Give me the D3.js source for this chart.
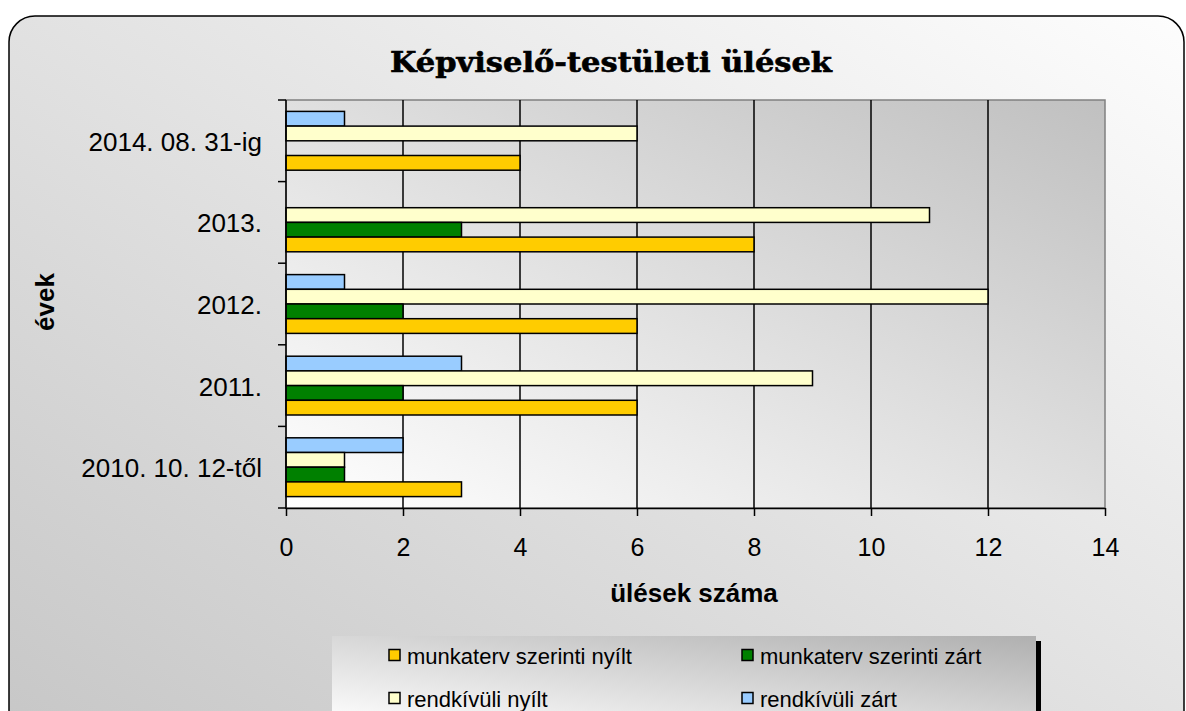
<!DOCTYPE html>
<html>
<head>
<meta charset="utf-8">
<script src="https://cdn.jsdelivr.net/npm/d3@7"></script>
<style>
  body { margin: 0; background: #fff; }
  svg { display: block; }
  text { font-family: "Liberation Sans", Arial, sans-serif; fill: #000; }
</style>
</head>
<body>
<svg id="chart" width="1186" height="711"></svg>
<script>
// data
var categories = ["2014. 08. 31-ig", "2013.", "2012.", "2011.", "2010. 10. 12-től"];
var seriesNames = ["rendkívüli zárt", "rendkívüli nyílt", "munkaterv szerinti zárt", "munkaterv szerinti nyílt"];
var seriesColors = ["#99ccff", "#ffffcc", "#008000", "#ffcc00"];
var rendkivuliZart = [1, 0, 1, 3, 2];
var rendkivuliNyilt = [6, 11, 12, 9, 1];
var munkatervZart = [0, 3, 2, 2, 1];
var munkatervNyilt = [4, 8, 6, 6, 3];
var xTicks = [0, 2, 4, 6, 8, 10, 12, 14];
var legendOrder = ["munkaterv szerinti nyílt", "munkaterv szerinti zárt", "rendkívüli nyílt", "rendkívüli zárt"];

var seriesValues = [rendkivuliZart, rendkivuliNyilt, munkatervZart, munkatervNyilt];

var svg = d3.select("#chart");
var defs = svg.append("defs");

function gradient(id, x1, y1, x2, y2, c1, c2) {
    var g = defs.append("linearGradient").attr("id", id)
        .attr("x1", x1).attr("y1", y1).attr("x2", x2).attr("y2", y2);
    g.append("stop").attr("offset", "0%").attr("stop-color", c1);
    g.append("stop").attr("offset", "100%").attr("stop-color", c2);
}
gradient("frameGrad", 1, 0, 0, 1, "#fdfdfd", "#c6c6c6");
gradient("plotGrad", 0, 1, 1, 0, "#ffffff", "#c0c0c0");
gradient("legendGrad", 0, 1, 1, 0, "#ffffff", "#b0b0b0");

// outer frame
svg.append("rect")
    .attr("x", 9).attr("y", 16)
    .attr("width", 1175).attr("height", 740)
    .attr("rx", 26).attr("ry", 26)
    .attr("fill", "url(#frameGrad)")
    .attr("stroke", "#000").attr("stroke-width", 1.5);

var plotLeft = 286, plotRight = 1105, plotTop = 100, plotBottom = 508;

var x = d3.scaleLinear().domain([0, 14]).range([plotLeft, plotRight]);
var y = d3.scaleBand().domain(categories).range([plotTop, plotBottom]).padding(0);
var y1 = d3.scaleBand().domain(seriesNames).range([0, y.bandwidth()])
    .paddingInner(0).paddingOuter(0.776);

// plot background
svg.append("rect")
    .attr("x", plotLeft).attr("y", plotTop)
    .attr("width", plotRight - plotLeft).attr("height", plotBottom - plotTop)
    .attr("fill", "url(#plotGrad)")
    .attr("stroke", "#808080").attr("stroke-width", 1.5);

// vertical grid
svg.append("g")
    .selectAll("line")
    .data(xTicks.filter(d => d > 0 && d < 14))
    .enter()
    .append("line")
    .attr("x1", d => x(d)).attr("x2", d => x(d))
    .attr("y1", plotTop).attr("y2", plotBottom)
    .attr("stroke", "#000").attr("stroke-width", 1.5);

// bars
var rows = [];
categories.forEach((c, i) => {
    seriesNames.forEach((s, j) => {
        rows.push({ cat: c, series: s, value: seriesValues[j][i], color: seriesColors[j] });
    });
});

svg.append("g")
    .selectAll("rect")
    .data(rows.filter(d => d.value > 0))
    .enter()
    .append("rect")
    .attr("x", x(0))
    .attr("y", d => y(d.cat) + y1(d.series))
    .attr("width", d => x(d.value) - x(0))
    .attr("height", y1.bandwidth())
    .attr("fill", d => d.color)
    .attr("stroke", "#000").attr("stroke-width", 1.5);

// axes
var xAxis = svg.append("g")
    .attr("transform", "translate(0," + plotBottom + ")")
    .call(d3.axisBottom(x).tickValues(xTicks).tickSize(8).tickPadding(22).tickSizeOuter(0));
xAxis.select(".domain").attr("stroke", "#000").attr("stroke-width", 1.5);
xAxis.selectAll(".tick line").attr("stroke", "#000").attr("stroke-width", 1.5);
xAxis.selectAll(".tick text")
    .attr("font-family", "'Liberation Sans', Arial, sans-serif")
    .attr("font-size", 25).attr("fill", "#000");

var yTickAxis = svg.append("g")
    .attr("transform", "translate(" + plotLeft + ",0)");
yTickAxis.append("line")
    .attr("x1", 0).attr("x2", 0).attr("y1", plotTop).attr("y2", plotBottom + 1)
    .attr("stroke", "#000").attr("stroke-width", 1.5);
yTickAxis.selectAll(".ytick")
    .data(categories.map(c => y(c)).concat([plotBottom]))
    .enter()
    .append("line")
    .attr("x1", -8).attr("x2", 0)
    .attr("y1", d => d).attr("y2", d => d)
    .attr("stroke", "#000").attr("stroke-width", 1.5);

svg.append("g")
    .selectAll("text")
    .data(categories)
    .enter()
    .append("text")
    .attr("x", 262)
    .attr("y", d => y(d) + y.bandwidth() / 2 + 10)
    .attr("text-anchor", "end")
    .attr("font-size", 26)
    .text(d => d);

// titles
svg.append("text")
    .attr("x", 611).attr("y", 72)
    .attr("text-anchor", "middle")
    .style("font-family", "'DejaVu Serif', serif")
    .attr("font-weight", "bold")
    .attr("font-size", 28)
    .attr("stroke", "#000").attr("stroke-width", 0.6)
    .attr("textLength", 442).attr("lengthAdjust", "spacingAndGlyphs")
    .text("Képviselő-testületi ülések");

svg.append("text")
    .attr("x", 694).attr("y", 602)
    .attr("text-anchor", "middle")
    .attr("font-weight", "bold")
    .attr("font-size", 26)
    .text("ülések száma");

svg.append("text")
    .attr("transform", "translate(54,302) rotate(-90)")
    .attr("text-anchor", "middle")
    .attr("font-weight", "bold")
    .attr("font-size", 26)
    .text("évek");

// legend
svg.append("rect")
    .attr("x", 1036).attr("y", 641)
    .attr("width", 5).attr("height", 80)
    .attr("fill", "#000");
svg.append("rect")
    .attr("x", 332).attr("y", 636)
    .attr("width", 704).attr("height", 90)
    .attr("fill", "url(#legendGrad)");

var legend = svg.append("g")
    .selectAll("g")
    .data(legendOrder)
    .enter()
    .append("g")
    .attr("transform", (d, i) => "translate(" + (i % 2 ? 742 : 389) + "," + (i < 2 ? 655 : 698) + ")");
legend.append("rect")
    .attr("x", 0).attr("y", -5.5)
    .attr("width", 11).attr("height", 11)
    .attr("fill", d => seriesColors[seriesNames.indexOf(d)])
    .attr("stroke", "#000").attr("stroke-width", 1.5);
legend.append("text")
    .attr("x", 18).attr("y", 9)
    .attr("font-size", 22)
    .text(d => d);
</script>
</body>
</html>
